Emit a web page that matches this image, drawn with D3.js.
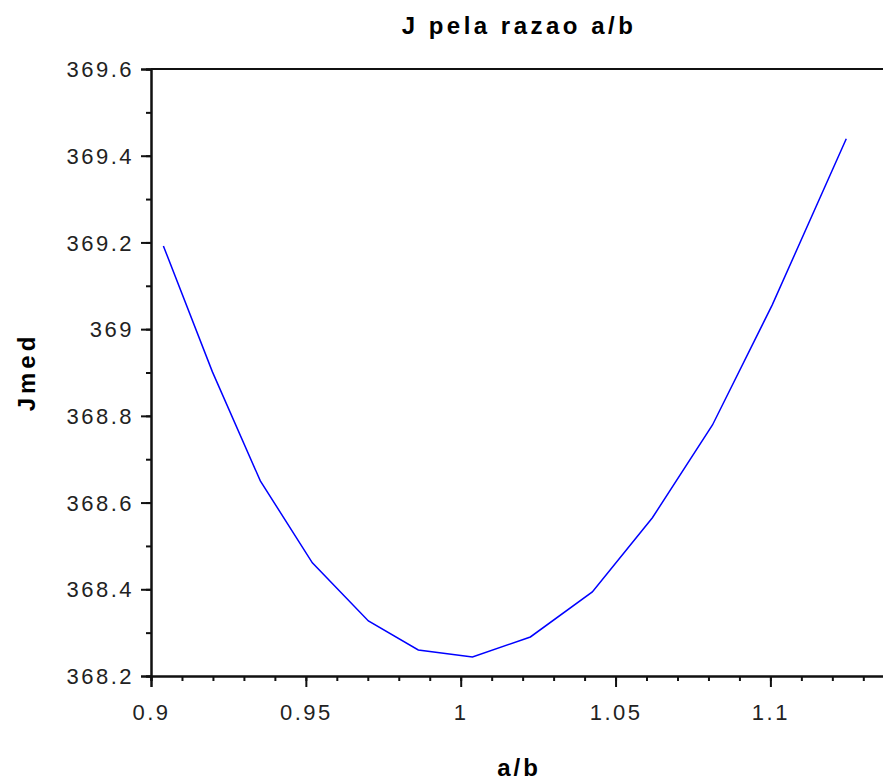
<!DOCTYPE html>
<html>
<head>
<meta charset="utf-8">
<script src="https://cdn.jsdelivr.net/npm/d3@7"></script>
<style>
  body { margin: 0; background: #fff; }
  text { font-family: "Liberation Sans", Arial, sans-serif; }
</style>
</head>
<body>
<svg width="883" height="782"></svg>
<script>
// data
var razao = [0.904, 0.9198, 0.9353, 0.9521, 0.9702, 0.9863, 1.0038, 1.0225, 1.0425, 1.0619, 1.0813, 1.1006, 1.1245]
var jmed = [369.192, 368.902, 368.650, 368.461, 368.327, 368.260, 368.244, 368.290, 368.394, 368.565, 368.779, 369.056, 369.439]
var xTicks = [0.9, 0.95, 1, 1.05, 1.1]
var yTicks = [368.2, 368.4, 368.6, 368.8, 369, 369.2, 369.4, 369.6]

var plotLeft = 151, plotTop = 69, plotBottom = 676, plotRight = 885

var svg = d3.select("svg")

var x = d3.scaleLinear().domain([0.9, 0.9 + (plotRight - plotLeft) / 3097]).range([plotLeft, plotRight])
var y = d3.scaleLinear().domain([368.2, 369.6]).range([plotBottom, plotTop])

var fmt = function(d) { return String(+d.toFixed(2)) }

// minor ticks
svg.append("g").attr("transform", "translate(0," + plotBottom + ")")
	.call(d3.axisBottom(x).tickValues(d3.range(0.9, 1.136, 0.01)).tickSize(5).tickFormat(""))
svg.append("g").attr("transform", "translate(" + plotLeft + ",0)")
	.call(d3.axisLeft(y).tickValues(d3.range(368.2, 369.61, 0.1)).tickSize(5).tickFormat(""))

// major ticks
var gx = svg.append("g").attr("transform", "translate(0," + plotBottom + ")")
	.call(d3.axisBottom(x).tickValues(xTicks).tickSize(11).tickPadding(17).tickFormat(fmt))
var gy = svg.append("g").attr("transform", "translate(" + plotLeft + ",0)")
	.call(d3.axisLeft(y).tickValues(yTicks).tickSize(10).tickPadding(7).tickFormat(fmt))

svg.selectAll(".domain").attr("stroke", "#111").attr("stroke-width", 2)
svg.selectAll(".tick line").attr("stroke", "#111").attr("stroke-width", 2)
svg.selectAll(".tick text").attr("font-size", 22).attr("fill", "#222")
	.style("letter-spacing", "2.5px").attr("font-family", "Liberation Sans, Arial, sans-serif")
gy.selectAll(".tick text").attr("dy", "0.35em")

// top border
svg.append("line").attr("x1", plotLeft).attr("x2", plotRight).attr("y1", plotTop).attr("y2", plotTop)
	.attr("stroke", "#111").attr("stroke-width", 2)

// curve
var pts = razao.map(function(d, i) { return [d, jmed[i]] })
svg.append("path").datum(pts)
	.attr("d", d3.line().x(function(d) { return x(d[0]) }).y(function(d) { return y(d[1]) }))
	.attr("fill", "none").attr("stroke", "#0000ff").attr("stroke-width", 1.5)

// labels
svg.append("text").attr("x", 519).attr("y", 34).attr("text-anchor", "middle")
	.attr("font-size", 24).attr("font-weight", "bold").style("letter-spacing", "3.5px")
	.text("J pela razao a/b")
svg.append("text").attr("x", 519).attr("y", 776).attr("text-anchor", "middle")
	.attr("font-size", 24).attr("font-weight", "bold").style("letter-spacing", "3px")
	.text("a/b")
svg.append("text").attr("transform", "translate(35,372) rotate(-90)").attr("text-anchor", "middle")
	.attr("font-size", 24).attr("font-weight", "bold").style("letter-spacing", "4px")
	.text("Jmed")
</script>
</body>
</html>
